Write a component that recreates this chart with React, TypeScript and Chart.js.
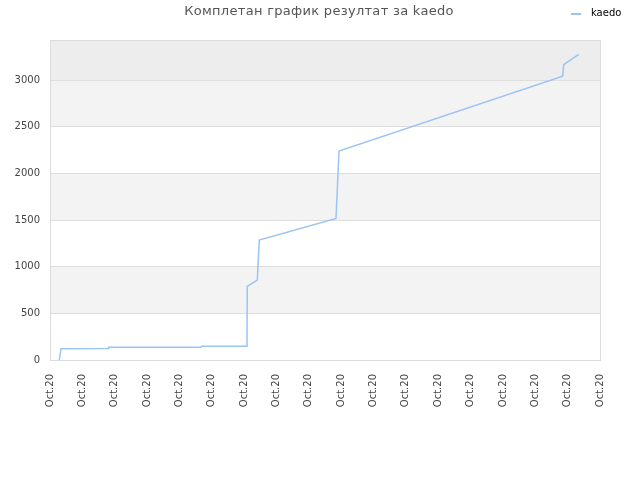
import { useEffect, useRef } from 'react'
import Chart from 'chart.js/auto'

const title = 'Комплетан график резултат за kaedo'
const seriesName = 'kaedo'

// x position in tick units (0..17), y = cumulative score
const xs = [0.287, 0.34, 1.793, 1.808, 4.667, 4.683, 6.089, 6.098, 6.407, 6.469, 8.84, 8.933, 15.847, 15.878, 16.341]
const ys = [0, 121, 122, 136, 137, 147, 147, 790, 857, 1286, 1518, 2240, 3043, 3165, 3276]

const tickCount = 18
const tickLabel = 'Oct.20'
const yTicks = [0, 500, 1000, 1500, 2000, 2500, 3000]
const yMax = 3430

const lineColor = '#9ac5f2'
const font = '"DejaVu Sans", sans-serif'

const decorations = {
  id: 'decorations',
  beforeDraw(chart: Chart) {
    const { ctx, chartArea } = chart
    const y = chart.scales.y
    ctx.save()
    const bands: [number, number, string][] = [
      [500, 1000, '#f3f3f3'],
      [1500, 2000, '#f3f3f3'],
      [2500, 3000, '#f3f3f3'],
      [3000, yMax, '#ededed'],
    ]
    bands.forEach(([a, b, c]) => {
      const top = y.getPixelForValue(b)
      const bottom = y.getPixelForValue(a)
      ctx.fillStyle = c
      ctx.fillRect(chartArea.left, top, chartArea.right - chartArea.left, bottom - top)
    })
    ctx.restore()
  },
  afterDraw(chart: Chart) {
    const { ctx, chartArea } = chart
    ctx.save()
    ctx.strokeStyle = '#dcdcdc'
    ctx.lineWidth = 1
    ctx.strokeRect(chartArea.left + 0.5, chartArea.top + 0.5, chartArea.right - chartArea.left, chartArea.bottom - chartArea.top)

    ctx.fillStyle = '#555'
    ctx.font = '13px ' + font
    ;(ctx as any).letterSpacing = '0.3px'
    ctx.textAlign = 'center'
    ctx.textBaseline = 'middle'
    ctx.fillText(title, 319, 12)
    ;(ctx as any).letterSpacing = '0px'

    ctx.strokeStyle = lineColor
    ctx.lineWidth = 2
    ctx.beginPath()
    ctx.moveTo(571, 14)
    ctx.lineTo(581, 14)
    ctx.stroke()
    ctx.fillStyle = '#000'
    ctx.font = '10px ' + font
    ctx.textAlign = 'left'
    ctx.fillText(seriesName, 591, 13)
    ctx.restore()
  },
}

export default function App() {
  const chartRef = useRef<HTMLCanvasElement | null>(null)

  useEffect(() => {
    if (!chartRef.current) return
    const ctx = chartRef.current.getContext('2d')
    if (!ctx) return
    const chart = new Chart(ctx, {
      type: 'line',
      data: {
        datasets: [{
          label: seriesName,
          data: xs.map((x, i) => ({ x, y: ys[i] })),
          borderColor: lineColor,
          borderWidth: 1.5,
          pointRadius: 0,
          tension: 0,
          fill: false,
        }]
      },
      options: {
        responsive: true,
        maintainAspectRatio: false,
        animation: false,
        layout: { padding: { top: 40, right: 40, left: 0, bottom: 0 } },
        plugins: {
          legend: { display: false },
          title: { display: false },
          tooltip: { enabled: false },
        },
        scales: {
          x: {
            type: 'linear',
            min: 0,
            max: tickCount - 1,
            afterFit: (scale: any) => { scale.height = 120 },
            grid: { display: false },
            border: { display: false },
            ticks: {
              stepSize: 1,
              autoSkip: false,
              minRotation: 90,
              maxRotation: 90,
              padding: 6,
              color: '#444',
              font: { family: font, size: 10 },
              callback: () => tickLabel,
            },
          },
          y: {
            min: 0,
            max: yMax,
            afterFit: (scale: any) => { scale.width = 50 },
            afterBuildTicks: (scale: any) => {
              scale.ticks = yTicks.map(value => ({ value }))
            },
            grid: { color: '#dedede', drawTicks: false },
            border: { display: false },
            ticks: {
              autoSkip: false,
              padding: 10,
              color: '#444',
              font: { family: font, size: 10 },
              callback: (v: any) => String(v),
            },
          },
        },
      },
      plugins: [decorations],
    })
    return () => chart.destroy()
  }, [])

  return (
    <div style={{ position: 'fixed', left: 0, top: 0, width: 640, height: 480, background: '#fff' }}>
      <canvas ref={chartRef} />
    </div>
  )
}
